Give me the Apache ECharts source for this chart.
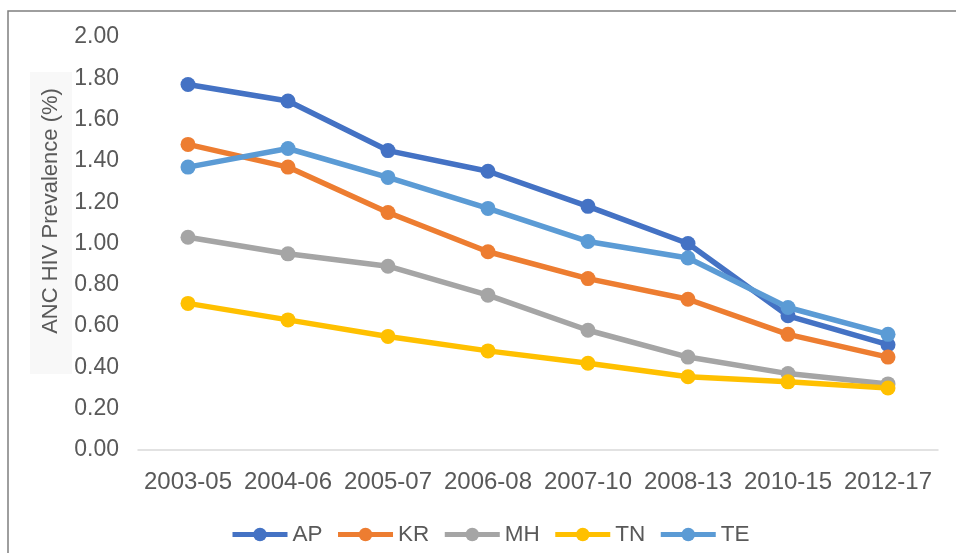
<!DOCTYPE html>
<html>
<head>
<meta charset="utf-8">
<script src="https://cdn.jsdelivr.net/npm/echarts@6/dist/echarts.min.js"></script>
<style>
html,body{margin:0;padding:0;background:#fff;}
#chart{width:956px;height:553px;}
</style>
</head>
<body>
<div id="chart"></div>
<script>
const categories = ['2003-05','2004-06','2005-07','2006-08','2007-10','2008-13','2010-15','2012-17'];
const AP = [1.77, 1.69, 1.45, 1.35, 1.18, 1.00, 0.65, 0.51];
const KR = [1.48, 1.37, 1.15, 0.96, 0.83, 0.73, 0.56, 0.45];
const MH = [1.03, 0.95, 0.89, 0.75, 0.58, 0.45, 0.37, 0.32];
const TN = [0.71, 0.63, 0.55, 0.48, 0.42, 0.355, 0.33, 0.30];
const TE = [1.37, 1.46, 1.32, 1.17, 1.01, 0.93, 0.69, 0.56];
const seriesNames = ['AP','KR','MH','TN','TE'];
const seriesData = [AP, KR, MH, TN, TE];
const colors = ['#4472C4','#ED7D31','#A5A5A5','#FFC000','#5B9BD5'];
const yAxisName = 'ANC HIV Prevalence (%)';

const font = 'Liberation Sans, Arial, sans-serif';
const chart = echarts.init(document.getElementById('chart'));
chart.setOption({
  animation: false,
  backgroundColor: '#ffffff',
  graphic: [
    {type:'rect', z:-10, shape:{x:8, y:11, width:1100, height:700}, style:{fill:'#ffffff', stroke:'#7F7F7F', lineWidth:1.5}},
    {type:'rect', z:-9, shape:{x:30, y:72, width:42, height:302}, style:{fill:'#F8F8F8'}},
    {type:'text', x:51, y:211, rotation:Math.PI/2, z:5,
     style:{text:yAxisName, fill:'#595959', font:'22px Liberation Sans, Arial, sans-serif', align:'center', verticalAlign:'middle'}}
  ],
  grid: {left:138, right:18, top:37, bottom:103, containLabel:false},
  legend: {
    left: 230, top: 523, padding: 0,
    itemWidth: 55, itemHeight: 17, itemGap: 13,
    lineStyle: {width:5},
    textStyle: {color:'#595959', fontSize:22.5, fontFamily:font},
    data: seriesNames
  },
  xAxis: {
    type:'category', data:categories, boundaryGap:true,
    axisLine:{lineStyle:{color:'#D9D9D9', width:1.5}},
    axisTick:{show:false},
    axisLabel:{color:'#595959', fontSize:24, fontFamily:font, margin:20, interval:0}
  },
  yAxis: {
    type:'value', min:0, max:2, interval:0.2,
    axisLine:{show:false}, axisTick:{show:false}, splitLine:{show:false},
    axisLabel:{color:'#595959', fontSize:23, fontFamily:font, margin:19, formatter:v=>v.toFixed(2)}
  },
  series: seriesNames.map((n,i)=>({
    name:n, type:'line', data:seriesData[i],
    symbol:'circle', symbolSize:15,
    lineStyle:{width:5.5, color:colors[i]},
    itemStyle:{color:colors[i]},
    emphasis:{disabled:true}
  }))
});
</script>
</body>
</html>
